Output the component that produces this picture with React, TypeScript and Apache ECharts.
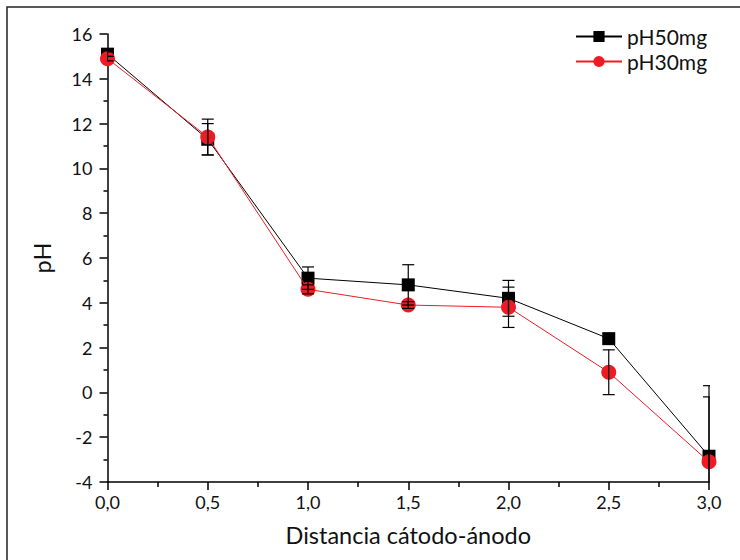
import React, { useEffect, useRef } from "react";
import * as echarts from "echarts";

const xValues = [0, 0.5, 1.0, 1.5, 2.0, 2.5, 3.0];
const ph50 = [15.1, 11.3, 5.1, 4.8, 4.2, 2.4, -2.85];
const ph50Err = [0.1, 0.7, 0.5, 0.9, 0.8, 0.1, 3.15];
const ph30 = [14.9, 11.4, 4.6, 3.9, 3.8, 0.9, -3.1];
const ph30Err = [0.1, 0.8, 0.2, 0.15, 0.9, 1.0, 2.9];
const seriesNames = ["pH50mg", "pH30mg"];
const xAxisTitle = "Distancia cátodo-ánodo";
const yAxisTitle = "pH";

const FONT = "Lato";
const RED = "#ED1C24";

export default function App() {
  const ref = useRef<HTMLDivElement>(null);
  useEffect(() => {
    if (!ref.current) return;
    const chart = echarts.init(ref.current, undefined, { renderer: "svg" });
    const errData = (vals: number[], errs: number[]) =>
      xValues.map((x, i) => [x, vals[i] - errs[i], vals[i] + errs[i]]);
    const renderErr = (params: any, api: any) => {
      const x = api.value(0);
      const lo = api.coord([x, api.value(1)]);
      const hi = api.coord([x, api.value(2)]);
      const w = 6;
      const style = { stroke: "#000", lineWidth: 1.2 };
      return {
        type: "group",
        children: [
          { type: "line", shape: { x1: lo[0], y1: lo[1], x2: hi[0], y2: hi[1] }, style },
          { type: "line", shape: { x1: hi[0] - w, y1: hi[1], x2: hi[0] + w, y2: hi[1] }, style },
          { type: "line", shape: { x1: lo[0] - w, y1: lo[1], x2: lo[0] + w, y2: lo[1] }, style },
        ],
      };
    };
    chart.setOption({
      animation: false,
      backgroundColor: "#fff",
      textStyle: { fontFamily: FONT },
      graphic: [
        {
          type: "rect",
          shape: { x: 7, y: 7, width: 800, height: 700 },
          style: { fill: "none", stroke: "#222", lineWidth: 1.5 },
          silent: true,
        },
      ],
      grid: { left: 107.5, right: 31, top: 34, bottom: 78, containLabel: false },
      legend: {
        data: seriesNames,
        orient: "vertical",
        left: 570,
        top: 21,
        itemWidth: 46,
        itemHeight: 14,
        itemGap: 4,
        textStyle: { fontFamily: FONT, fontSize: 21, color: "#111", padding: [0, 0, 0, 0] },
      },
      xAxis: {
        type: "value",
        min: 0,
        max: 3,
        interval: 0.5,
        name: xAxisTitle,
        nameLocation: "middle",
        nameGap: 41,
        nameTextStyle: { fontFamily: FONT, fontSize: 23.5, color: "#111" },
        axisLine: { onZero: false, lineStyle: { color: "#000", width: 1.5 } },
        axisTick: { show: true, inside: false, length: 8, lineStyle: { color: "#000", width: 1.5 } },
        minorTick: { show: true, splitNumber: 2, length: 5, lineStyle: { color: "#000", width: 1.5 } },
        axisLabel: {
          fontFamily: FONT,
          fontSize: 18,
          color: "#111",
          margin: 11,
          formatter: (v: number) => v.toFixed(1).replace(".", ","),
        },
        splitLine: { show: false },
      },
      yAxis: {
        type: "value",
        min: -4,
        max: 16,
        interval: 2,
        name: yAxisTitle,
        nameLocation: "middle",
        nameGap: 54,
        nameTextStyle: { fontFamily: FONT, fontSize: 23.5, color: "#111" },
        axisLine: { onZero: false, lineStyle: { color: "#000", width: 1.5 } },
        axisTick: { show: true, inside: false, length: 8, lineStyle: { color: "#000", width: 1.5 } },
        minorTick: { show: true, splitNumber: 2, length: 4, lineStyle: { color: "#000", width: 1.5 } },
        axisLabel: { fontFamily: FONT, fontSize: 18, color: "#111", margin: 15 },
        splitLine: { show: false },
      },
      series: [
        {
          name: seriesNames[0],
          type: "line",
          data: xValues.map((x, i) => [x, ph50[i]]),
          symbol: "rect",
          symbolSize: 13,
          itemStyle: { color: "#000" },
          lineStyle: { color: "#000", width: 1 },
          z: 2,
        },
        {
          name: seriesNames[1],
          type: "line",
          data: xValues.map((x, i) => [x, ph30[i]]),
          symbol: "circle",
          symbolSize: 15,
          itemStyle: { color: RED },
          lineStyle: { color: RED, width: 1 },
          z: 3,
        },
        {
          type: "custom",
          data: errData(ph50, ph50Err),
          renderItem: renderErr,
          clip: true,
          z: 4,
          silent: true,
        },
        {
          type: "custom",
          data: errData(ph30, ph30Err),
          renderItem: renderErr,
          clip: true,
          z: 4,
          silent: true,
        },
      ],
    });
    return () => chart.dispose();
  }, []);
  return (
    <div
      ref={ref}
      style={{ position: "fixed", left: 0, top: 0, width: 740, height: 560 }}
    />
  );
}
